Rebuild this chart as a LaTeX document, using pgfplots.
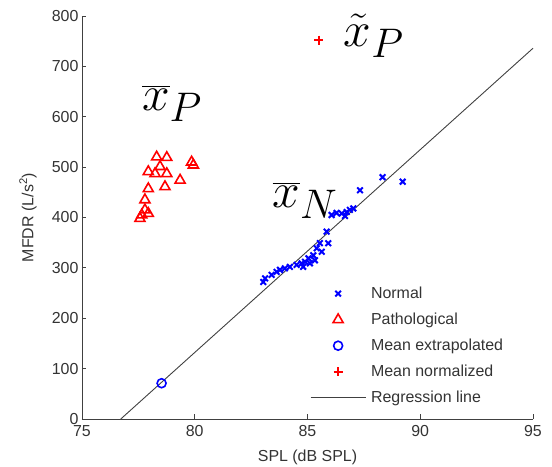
\documentclass[border=0pt]{standalone}
\usepackage{pgfplots}
\pgfplotsset{compat=1.18}
\usepackage{fontspec}
\setmainfont{Liberation Sans}
\usepackage{graphicx}
\begin{document}
\begin{tikzpicture}
\begin{axis}[name=ax, scale only axis, width=451bp, height=403bp,
  xmin=75, xmax=95, ymin=0, ymax=800,
  xtick={75,80,85,90,95}, ytick={0,100,200,300,400,500,600,700,800},
  axis x line*=bottom, axis y line*=left,
  axis line style={-, black!75, line width=0.8pt},
  tick align=inside, major tick length=4.5bp,
  tick style={black!75, line width=0.8pt},
  /pgf/number format/assume math mode=true,
  ticklabel style={font=\fontsize{16}{19}\selectfont, text=black!80},
  xticklabel style={yshift=-3bp},
  xlabel={SPL (dB SPL)}, ylabel={MFDR (L/s\textsuperscript{2})},
  every axis x label/.style={at={(axis description cs:0.5,-0.096)}, anchor=center, font=\fontsize{16}{19}\selectfont, text=black!80},
  every axis y label/.style={at={(axis description cs:-0.12,0.5)}, anchor=center, rotate=90, font=\fontsize{16}{19}\selectfont, text=black!80},
  legend style={at={(0.5055,0.3325)}, anchor=north west, draw=none, fill=none,
    inner sep=0pt, font=\fontsize{16}{19}\selectfont, text=black!80,
    row sep=9pt, column sep=3bp, legend cell align=left},
  legend image code/.code={\draw[mark repeat=2,mark phase=2] plot coordinates {(0bp,0bp)(27.5bp,0bp)(55bp,0bp)};},
  clip=false]
\addplot[only marks, mark=x, blue, mark size=4bp, line width=2pt] coordinates {
(88.33,480) (89.22,471) (87.33,454) (86.07,405) (86.29,409) (86.52,408)
(86.74,411) (86.88,415) (87.03,418) (86.66,403) (85.85,372) (85.92,349)
(85.55,349) (85.41,339) (85.63,332) (85.26,325) (85.04,319) (84.89,312)
(85.11,309) (85.33,315) (84.74,309) (84.52,306) (84.22,302) (84.00,299)
(83.78,296) (83.63,292) (83.41,286) (83.12,279) (83.04,272) (84.81,302)
};
\addlegendentry{Normal}
\addplot[only marks, mark=triangle, red, mark size=5.8bp, line width=1.6pt] coordinates {
(78.31,520) (78.76,519) (79.86,510) (79.94,504) (78.46,501) (77.94,491)
(78.24,487) (78.76,487) (79.35,474) (77.94,457) (78.68,461) (77.79,435)
(77.79,415) (77.65,405) (77.94,408) (77.57,398)
};
\addlegendentry{Pathological}
\addplot[only marks, mark=o, blue, mark size=4.5bp, line width=1.6pt] coordinates {(78.53,71)};
\addlegendentry{Mean extrapolated}
\addplot[only marks, mark=+, red, mark size=4.5bp, line width=2pt] coordinates {(85.5,752)};
\addlegendentry{Mean normalized}
\addplot[black!75, line width=0.9pt] coordinates {(76.72,0) (95,736)};
\addlegendentry{Regression line}
\node at (axis cs:79.0,627) {\scalebox{2}{\Huge$\overline{x}_P$}};
\node at (axis cs:87.95,760) {\scalebox{2}{\Huge$\tilde{x}_P$}};
\node at (axis cs:84.9,434) {\scalebox{2}{\Huge$\overline{x}_N$}};
\end{axis}
\pgfresetboundingbox
\path[use as bounding box] ([xshift=-82bp,yshift=-48bp]ax.south west) rectangle ([xshift=19bp,yshift=16bp]ax.north east);
\end{tikzpicture}
\end{document}
